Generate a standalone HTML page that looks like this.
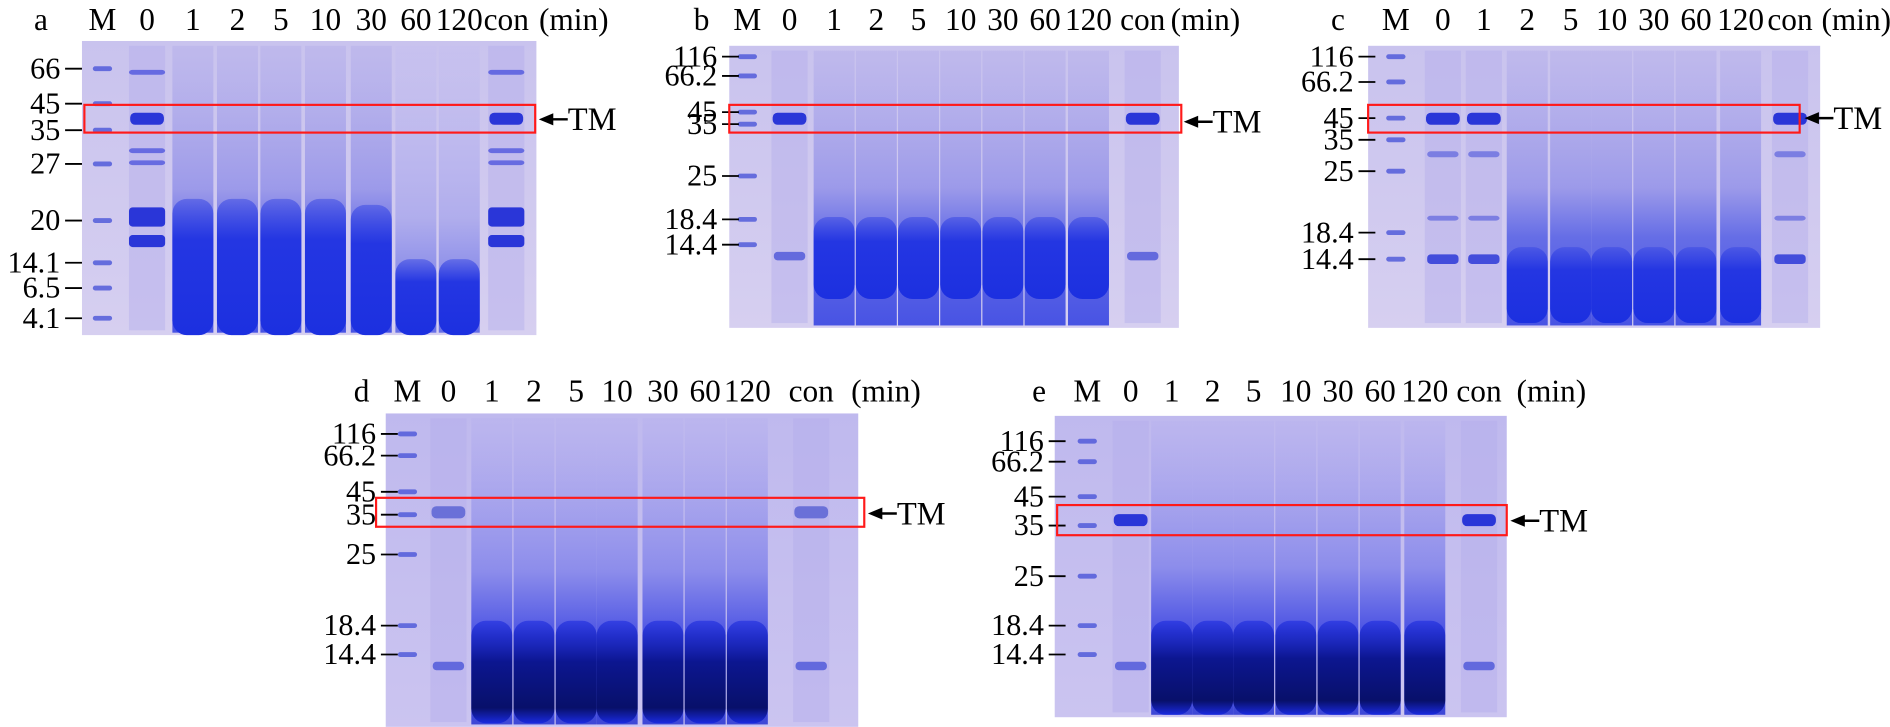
<!DOCTYPE html>
<html><head><meta charset="utf-8">
<style>
html,body{margin:0;padding:0;background:#fff;}
svg{display:block;}
text{font-family:"Liberation Serif",serif;fill:#000;}
</style></head>
<body>
<svg id="fig" width="1890" height="727" viewBox="0 0 1890 727" xmlns="http://www.w3.org/2000/svg">
<defs>
<linearGradient id="gelbg" x1="0" y1="0" x2="0" y2="1"><stop offset="0" stop-color="#c9c3ee"/><stop offset="1" stop-color="#d6cff0"/></linearGradient>
<linearGradient id="gelbgDark" x1="0" y1="0" x2="0" y2="1"><stop offset="0" stop-color="#bfb9ee"/><stop offset="1" stop-color="#cbc4f0"/></linearGradient>
<linearGradient id="smear" x1="0" y1="0" x2="0" y2="1"><stop offset="0" stop-color="#b4aeea" stop-opacity="0.6"/><stop offset="0.5" stop-color="#8f8ee8"/><stop offset="0.68" stop-color="#4a56e4"/><stop offset="1" stop-color="#2434e0"/></linearGradient>
<linearGradient id="smearLight" x1="0" y1="0" x2="0" y2="1"><stop offset="0" stop-color="#c4bef0" stop-opacity="0.5"/><stop offset="0.6" stop-color="#a8a6ec"/><stop offset="1" stop-color="#4a56e4"/></linearGradient>
<linearGradient id="smearDark" x1="0" y1="0" x2="0" y2="1"><stop offset="0" stop-color="#b8b2ee" stop-opacity="0.6"/><stop offset="0.5" stop-color="#7e80ea"/><stop offset="0.72" stop-color="#2a36e0"/><stop offset="1" stop-color="#1a28d0"/></linearGradient>
<linearGradient id="blobA" x1="0" y1="0" x2="0" y2="1"><stop offset="0" stop-color="#3444e4" stop-opacity="0.5"/><stop offset="0.3" stop-color="#2436e2"/><stop offset="1" stop-color="#1c30e0"/></linearGradient>
<linearGradient id="blobD" x1="0" y1="0" x2="0" y2="1"><stop offset="0" stop-color="#1a2ae0" stop-opacity="0.6"/><stop offset="0.4" stop-color="#0c1690"/><stop offset="0.85" stop-color="#08106a"/><stop offset="1" stop-color="#1a2ae0"/></linearGradient>
</defs>
<g id="root" transform="scale(1.2054)"></g>
</svg>
<script>
const NS="http://www.w3.org/2000/svg";
const root=document.getElementById('root');
const laneNames=["M","0","1","2","5","10","30","60","120","con"];
const panelIds=["a","b","c","d","e"];
const markerA=["66","45","35","27","20","14.1","6.5","4.1"];
const markerB=["116","66.2","45","35","25","18.4","14.4"];
const markerYA=[57,86,108,136,183,218,239,264];
const markerYB=[47,63,93,103,146,182,203];
const markerYC=[47,68,98,116,142,193,215];
const markerYD=[360,378,408,427,460,519,543];
const markerYE=[366,383,412,436,478,519,543];
// lane kinds: M marker, S sample with distinct bands, B digested (blob)
const kindsA=["M","S","B","B","B","B","B","B","B","S"];
const kindsC=["M","S","S","B","B","B","B","B","B","S"];
const blobTopA=[0,0,165,165,165,165,170,215,215,0];
const P=[
 {id:"a",gel:[68,34,377,244],lx:[85,122,160,197,233,270,308,345,381,420],ly:16,mk:markerA,my:markerYA,box:[70,87,374,23],tm:[447,99],minx:476,lab:[34,16],blob:[165,278],dark:false,mkx:20,kinds:kindsA,btop:blobTopA},
 {id:"b",gel:[605,38,373,234],lx:[620,655,692,727,762,797,832,867,903,948],ly:16,mk:markerB,my:markerYB,box:[605,87,375,23],tm:[982,101],minx:1000,lab:[582,16],blob:[180,248],dark:false,mkx:565,kinds:kindsA,btop:null},
 {id:"c",gel:[1135,38,375,234],lx:[1158,1197,1231,1267,1303,1337,1372,1407,1444,1485],ly:16,mk:markerB,my:markerYC,box:[1135,87,358,23],tm:[1497,98],minx:1540,lab:[1110,16],blob:[205,268],dark:false,mkx:1093,kinds:kindsC,btop:null},
 {id:"d",gel:[320,343,392,260],lx:[338,372,408,443,478,512,550,585,620,673],ly:324,mk:markerB,my:markerYD,box:[312,413,405,24],tm:[720,426],minx:735,lab:[300,324],blob:[515,600],dark:true,mkx:282,kinds:kindsA,btop:null},
 {id:"e",gel:[875,345,375,250],lx:[902,938,972,1006,1040,1075,1110,1145,1182,1227],ly:324,mk:markerB,my:markerYE,box:[877,419,373,25],tm:[1253,432],minx:1287,lab:[862,324],blob:[515,593],dark:true,mkx:836,kinds:kindsA,btop:null}
];
function el(tag,attrs,parent){const e=document.createElementNS(NS,tag);for(const k in attrs)e.setAttribute(k,attrs[k]);(parent||root).appendChild(e);return e;}
P.forEach(p=>{
 const g=el('g',{});
 
 
 const [gx,gy,gw,gh]=p.gel;
 const bg=el('rect',{x:gx,y:gy,width:gw,height:gh,fill:p.dark?'url(#gelbgDark)':'url(#gelbg)'},g);
 
 
 const lw=30;
 p.lx.forEach((x,i)=>{
  const name=laneNames[i];
  const kind=p.kinds[i];
  if(kind==="M"){
   p.my.forEach(y=>{const b=el('rect',{x:x-8,y:y-2,width:16,height:4,rx:2,fill:'#4a55d8',opacity:0.8},g);
    
    });
  } else if(kind==="S"){
   const l=el('rect',{x:x-lw/2,y:gy+4,width:lw,height:gh-8,fill:'#b4aeea',opacity:0.45},g);
   
   
   const tmY=p.box[1]+p.box[3]/2;
   const b=el('rect',{x:x-lw/2+1,y:tmY-5,width:lw-2,height:10,rx:4,fill:p.id==="d"?'#6a70d8':'#2a36d8'},g);
   
   
   if(p.id==="a"){[[180,16],[200,10],[60,4],[125,4],[135,4]].forEach(([y,h])=>{const bb=el('rect',{x:x-lw/2,y:y-h/2,width:lw,height:h,rx:3,fill:'#2a36d8',opacity:h>5?1:0.6},g);
     
     });}
   if(p.id==="c"){[[p.my[6],8],[p.my[3]+12,5],[p.my[5]-12,4]].forEach(([y,h])=>{const bb=el('rect',{x:x-lw/2+2,y:y-h/2,width:lw-4,height:h,rx:3,fill:'#3440d8',opacity:h>5?0.9:0.5},g);
     
     });}
   else if(p.id!=="a"){const by=p.my[6];const bb=el('rect',{x:x-lw/2+2,y:by+6,width:lw-4,height:7,rx:3,fill:'#4b55d8',opacity:0.8},g);
     
     }
  } else {
   const light=p.btop&&p.btop[i]>200;
   const l=el('rect',{x:x-lw/2-2,y:gy+4,width:lw+4,height:gh-6,fill:light?'url(#smearLight)':(p.dark?'url(#smearDark)':'url(#smear)'),opacity:0.8},g);
   
   
   const top=p.btop?p.btop[i]:p.blob[0];
   const blob=el('rect',{x:x-lw/2-2,y:top,width:lw+4,height:p.blob[1]-top,rx:12,fill:p.dark?'url(#blobD)':'url(#blobA)'},g);
   
   
  }
  const t=el('text',{x:x,y:p.ly+9,'font-size':26,'text-anchor':'middle'},g);
  t.textContent=name;
  
  
 });
 if(p.minx){const t=el('text',{x:p.minx,y:p.ly+9,'font-size':26,'text-anchor':'middle'},g);t.textContent="(min)";
  
  }
 const lt=el('text',{x:p.lab[0],y:p.lab[1]+9,'font-size':26,'text-anchor':'middle'},g);lt.textContent=p.id;
 
 
 p.mk.forEach((m,i)=>{const y=p.my[i];
  const t=el('text',{x:p.mkx+30,y:y+8,'font-size':25,'text-anchor':'end'},g);t.textContent=m;
  
  
  const tk=el('line',{x1:p.mkx+34,x2:p.mkx+48,y1:y,y2:y,stroke:'#000','stroke-width':1.5},g);
  
  });
 const bx=el('rect',{x:p.box[0],y:p.box[1],width:p.box[2],height:p.box[3],fill:'none',stroke:'#ff1a1a','stroke-width':1.8},g);
 
 
 const [ax,ay]=p.tm;
 const ar=el('line',{x1:ax+8,x2:ax+24,y1:ay,y2:ay,stroke:'#000','stroke-width':2},g);
 
 
 const ah=el('polygon',{points:`${ax},${ay} ${ax+12},${ay-5} ${ax+12},${ay+5}`,fill:'#000'},g);
 
 
 const tt=el('text',{x:ax+24,y:ay+9,'font-size':27},g);tt.textContent="TM";
 
 
});
</script>
</body></html>
